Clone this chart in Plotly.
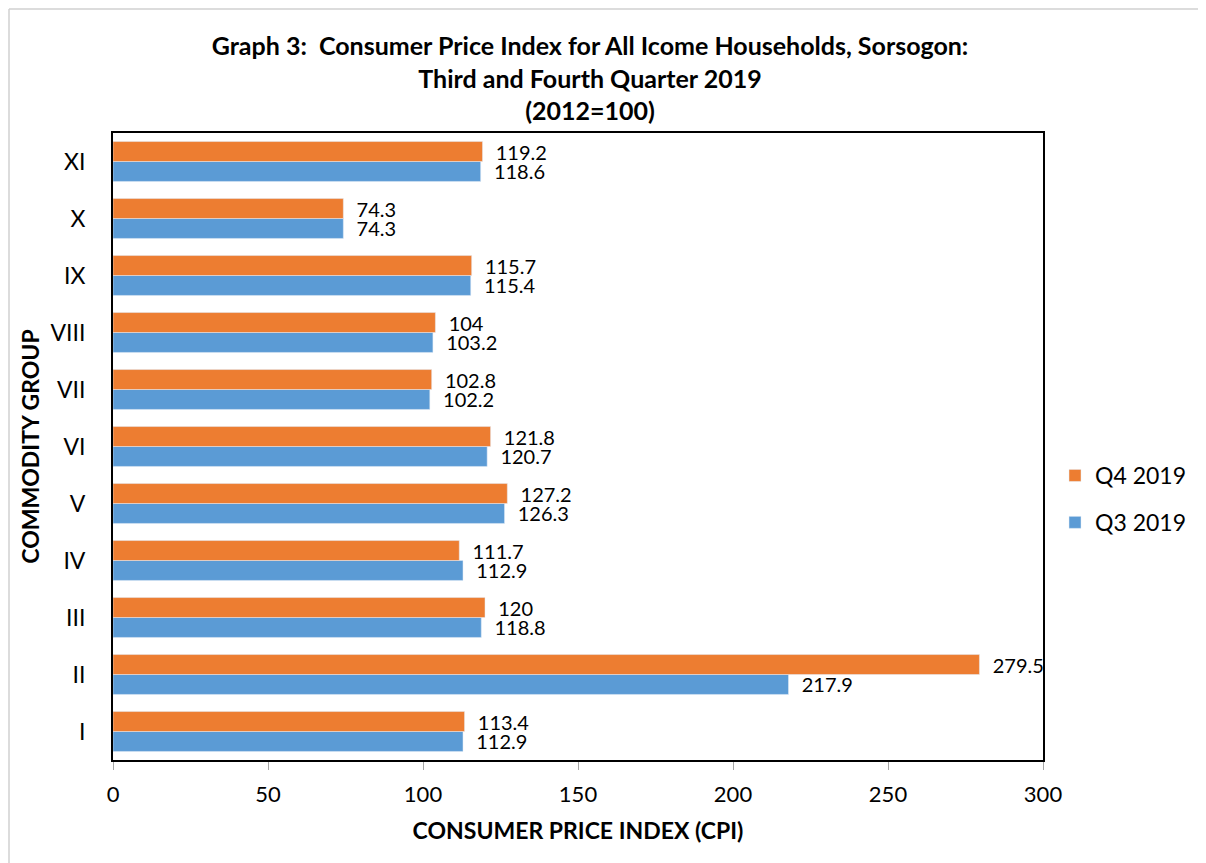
import plotly.graph_objects as go

categories = ["I", "II", "III", "IV", "V", "VI", "VII", "VIII", "IX", "X", "XI"]
q3_2019 = [112.9, 217.9, 118.8, 112.9, 126.3, 120.7, 102.2, 103.2, 115.4, 74.3, 118.6]
q4_2019 = [113.4, 279.5, 120, 111.7, 127.2, 121.8, 102.8, 104, 115.7, 74.3, 119.2]
x_ticks = [0, 50, 100, 150, 200, 250, 300]

FONT = "Lato"
BLUE = "#5B9BD5"
ORANGE = "#ED7D31"

fig = go.Figure()
fig.add_trace(go.Bar(
    y=categories, x=q3_2019, orientation="h", name="Q3 2019", legendgroup="q3",
    legendrank=2,
    marker=dict(color=BLUE),
    text=["  " + f"{v:g}" for v in q3_2019], textposition="outside",
    textfont=dict(family=FONT, size=20, color="black"),
    cliponaxis=False, constraintext="none",
))
fig.add_trace(go.Bar(
    y=categories, x=q4_2019, orientation="h", name="Q4 2019", legendgroup="q4",
    legendrank=1,
    marker=dict(color=ORANGE),
    text=["  " + f"{v:g}" for v in q4_2019], textposition="outside",
    textfont=dict(family=FONT, size=20, color="black"),
    cliponaxis=False, constraintext="none",
))

# page renders figure offset by 8px body margin
W, H = 1198, 855
L, T = 105, 125
R = W - 1035
B = H - 752
pw, ph = W - L - R, H - T - B

fig.update_layout(
    width=W, height=H,
    margin=dict(l=L, r=R, t=T, b=B, pad=0, autoexpand=False),
    barmode="group", bargap=0.3, bargroupgap=0,
    paper_bgcolor="white", plot_bgcolor="white",
    font=dict(family=FONT, color="black"),
    title=dict(
        text="Graph 3:  Consumer Price Index for All Icome Households, Sorsogon:<br>Third and Fourth Quarter 2019<br>(2012=100)",
        font=dict(family=FONT, size=25, color="black", weight="bold"),
        x=582 / W, xanchor="center", y=1 - 47 / H, yanchor="top",
    ),
    legend=dict(
        traceorder="grouped", x=1 + 12 / pw, xanchor="left", y=(752 - 491) / ph, yanchor="middle",
        font=dict(family=FONT, size=23, color="black"), itemwidth=30,
        tracegroupgap=14, bgcolor="rgba(0,0,0,0)",
    ),
    xaxis=dict(
        range=[0, 300], tickvals=x_ticks, showgrid=False, zeroline=False,
        showline=True, linecolor="black", linewidth=2, mirror=True,
        ticks="outside", ticklen=8, tickcolor="#A6A6A6", tickwidth=1,
        ticklabelstandoff=6, automargin=True,
        tickfont=dict(family=FONT, size=22, color="black"),
        title=dict(text="<b>CONSUMER PRICE INDEX (CPI)</b>", font=dict(family=FONT, size=23, color="black"), standoff=16),
    ),
    yaxis=dict(
        showgrid=False, zeroline=False,
        showline=True, linecolor="black", linewidth=2, mirror=True,
        ticks="", ticklabelstandoff=21, automargin=True,
        tickfont=dict(family=FONT, size=23, color="black"),
        title=dict(text="<b>COMMODITY GROUP</b>", font=dict(family=FONT, size=23, color="black"), standoff=4),
    ),
)

# outer chart-area border (light gray)
fig.add_shape(type="line", xref="paper", yref="paper",
              x0=(1 - L) / pw, x1=(W + 5 - L) / pw, y0=(H - B - 1) / ph, y1=(H - B - 1) / ph,
              line=dict(color="#D0D0D0", width=1.5))
fig.add_shape(type="line", xref="paper", yref="paper",
              x0=(1 - L) / pw, x1=(1 - L) / pw, y0=(H - B - 1) / ph, y1=-B / ph - 0.05,
              line=dict(color="#D0D0D0", width=1.5))

fig.write_html("out.html")
